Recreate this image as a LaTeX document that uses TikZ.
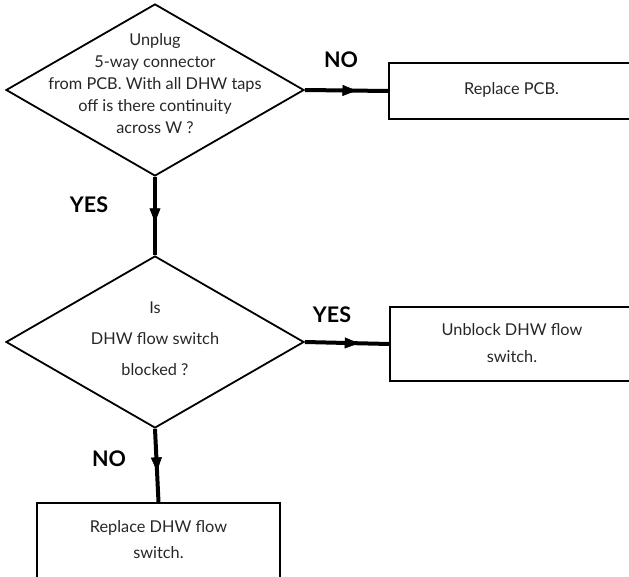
\documentclass[tikz,border=0pt]{standalone}
\usepackage{fontspec}
\setmainfont{Lato}
\usetikzlibrary{shapes.geometric,arrows.meta,decorations.markings}
\tikzset{
  dia/.style={draw, line width=1.8pt, shape=diamond, inner sep=0pt, minimum width=298pt, minimum height=172pt},
  txt/.style={align=center, font=\fontsize{16.3}{22}\selectfont, text=black!85},
  box/.style={draw, line width=1.8pt, minimum width=#1, inner sep=0pt},
  lbl/.style={font=\fontsize{21.5}{24}\selectfont\bfseries},
  flow/.style={line width=4pt, postaction={decorate}, decoration={markings, mark=at position #1 with {\arrow[line width=0.5pt]{Triangle[length=14pt,width=11pt]}}}}
}
\begin{document}
\begin{tikzpicture}[x=1pt,y=-1pt]
\useasboundingbox (0,0) rectangle (629,577);
\clip (0,0) rectangle (629,577);
\node[dia] (d1) at (155,90) {};
\node[txt] (t1) at (155,84) {Unplug\\5-way connector\\from PCB. With all DHW taps\\off is there continuity\\across W ?};
\node[dia] (d2) at (155,342) {};
\node[txt, font=\fontsize{16.3}{31}\selectfont] (t2) at (155,339) {Is\\DHW flow switch\\blocked ?};
\node[box=245pt, minimum height=56pt] (b1) at (511.5,91) {};
\node[txt] (bt1) at (511.5,90) {Replace PCB.};
\node[box=244pt, minimum height=74pt] (b2) at (512,344) {};
\node[txt, font=\fontsize{16.3}{27}\selectfont] (bt2) at (512,343) {Unblock DHW flow\\switch.};
\node[box=243pt, minimum height=75pt] (b3) at (158.5,540.5) {};
\node[txt, font=\fontsize{16.3}{26}\selectfont] (bt3) at (158.5,540) {Replace DHW flow\\switch.};
\draw[flow=0.62] (d1.east) -- (b1.west);
\draw[flow=0.58] (d1.south) -- (d2.north);
\draw[flow=0.64] (d2.east) -- (b2.west);
\draw[flow=0.58] (d2.south) -- (b3.north);
\node[lbl] (l1) at (341,60) {NO};
\node[lbl] (l2) at (89,205) {YES};
\node[lbl] (l3) at (332,315) {YES};
\node[lbl] (l4) at (109,459) {NO};
\end{tikzpicture}
\end{document}
